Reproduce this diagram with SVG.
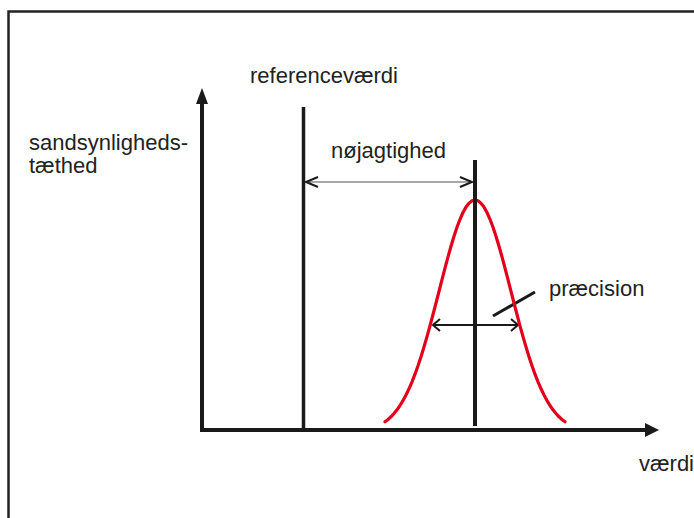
<svg xmlns="http://www.w3.org/2000/svg" width="694" height="518" viewBox="0 0 694 518">
  <defs>
    <style>
      .lbl { font-family: "Liberation Sans", Arial, sans-serif; font-size: 22px; fill: #222; }
      .axis { stroke: #1a1a1a; stroke-width: 4; fill: none; }
      .vline { stroke: #1a1a1a; fill: none; }
      .head { fill: #1a1a1a; }
      .chev { fill: none; stroke: #1a1a1a; stroke-width: 2; stroke-linejoin: miter; }
    </style>
  </defs>
  <rect width="694" height="518" fill="#ffffff"/>
  <rect x="8.5" y="11.5" width="720" height="540" fill="none" stroke="#222" stroke-width="2.5"/>

  <g id="connectors">
    <g id="y-axis">
      <line class="axis" x1="202" y1="432" x2="202" y2="100"/>
      <polygon class="head" points="202,88 196,104 208,104"/>
    </g>
    <g id="x-axis">
      <line class="axis" x1="200" y1="430" x2="647" y2="430"/>
      <polygon class="head" points="659,430 645,423 645,437"/>
    </g>
    <g id="accuracy-arrow">
      <line x1="306" y1="182" x2="472" y2="182" stroke="#8a8a8a" stroke-width="1.6"/>
      <polyline class="chev" points="318,177 306,182 318,187"/>
      <polyline class="chev" points="460,177 472,182 460,187"/>
    </g>
    <g id="precision-arrow">
      <line x1="433" y1="325" x2="518" y2="325" stroke="#1a1a1a" stroke-width="2"/>
      <polyline class="chev" points="440,319 433,325 440,331"/>
      <polyline class="chev" points="511,319 518,325 511,331"/>
    </g>
    <line id="precision-pointer" x1="493" y1="316" x2="535" y2="292" stroke="#1a1a1a" stroke-width="3"/>
  </g>

  <g id="reference-line">
    <line class="vline" x1="303.5" y1="107" x2="303.5" y2="430" stroke-width="3.5"/>
  </g>
  <g id="density-curve">
    <polyline fill="none" stroke="#e3001b" stroke-width="3.2" stroke-linecap="round" stroke-linejoin="round" points="385,421.8 388,419.5 391,416.8 394,413.5 397,409.8 400,405.5 403,400.6 406,395.0 409,388.8 412,381.8 415,374.2 418,365.8 421,356.7 424,346.9 427,336.6 430,325.8 433,314.5 436,303.0 439,291.3 442,279.6 445,268.1 448,256.9 451,246.2 454,236.3 457,227.3 460,219.3 463,212.5 466,207.1 469,203.2 472,200.8 475,200 478,200.8 481,203.2 484,207.1 487,212.5 490,219.3 493,227.3 496,236.3 499,246.2 502,256.9 505,268.1 508,279.6 511,291.3 514,303.0 517,314.5 520,325.8 523,336.6 526,346.9 529,356.7 532,365.8 535,374.2 538,381.8 541,388.8 544,395.0 547,400.6 550,405.5 553,409.8 556,413.5 559,416.8 562,419.5 565,421.8"/>
  </g>
  <g id="mean-line">
    <line class="vline" x1="475" y1="160" x2="475" y2="426" stroke-width="4"/>
  </g>

  <g id="label-reference"><text class="lbl" x="250" y="83">referenceværdi</text></g>
  <g id="label-accuracy"><text class="lbl" x="331" y="158">nøjagtighed</text></g>
  <g id="label-precision"><text class="lbl" x="549" y="296">præcision</text></g>
  <g id="label-density">
    <text class="lbl" x="29" y="150">sandsynligheds-</text>
    <text class="lbl" x="29" y="173">tæthed</text>
  </g>
  <g id="label-value"><text class="lbl" x="639" y="471">værdi</text></g>
</svg>
